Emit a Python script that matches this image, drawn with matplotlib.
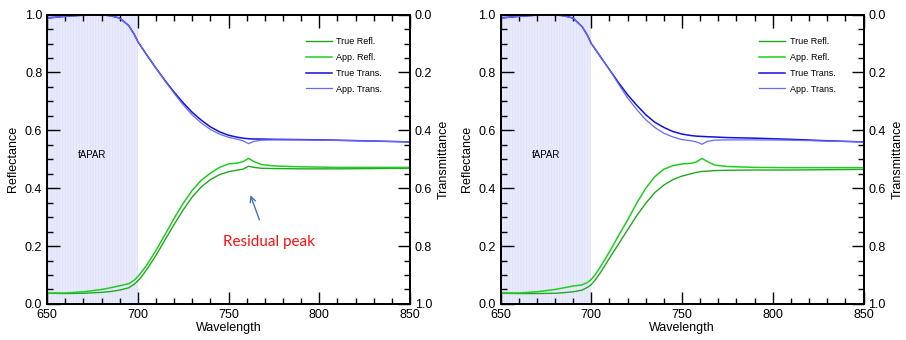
import numpy as np
import matplotlib
matplotlib.use("Agg")
import matplotlib.pyplot as plt
from matplotlib.ticker import MultipleLocator

plt.rcParams['font.family'] = ['Liberation Sans', 'DejaVu Sans']
plt.rcParams['hatch.linewidth'] = 0.5

# Wavelength samples (nm)
wl = [650, 660, 670, 680, 685, 690, 695, 698, 700, 702, 705, 710, 715, 720, 725, 730, 735,
      740, 745, 750, 755, 758, 761, 764, 768, 775, 790, 810, 830, 850]

# Left panel
left_true_refl = [0.037, 0.036, 0.037, 0.040, 0.043, 0.048, 0.056, 0.068, 0.080, 0.094,
                  0.120, 0.168, 0.222, 0.275, 0.325, 0.370, 0.405, 0.430, 0.447, 0.457,
                  0.463, 0.466, 0.476, 0.472, 0.469, 0.468, 0.467, 0.467, 0.468, 0.469]
left_app_refl = [0.038, 0.038, 0.042, 0.050, 0.056, 0.063, 0.070, 0.082, 0.095, 0.110,
                 0.135, 0.185, 0.240, 0.296, 0.348, 0.393, 0.428, 0.452, 0.472, 0.484,
                 0.487, 0.492, 0.503, 0.492, 0.482, 0.477, 0.474, 0.472, 0.472, 0.472]
left_true_trans = [0.012, 0.006, 0.002, 0.001, 0.004, 0.012, 0.038, 0.068, 0.093, 0.112,
                   0.140, 0.185, 0.228, 0.268, 0.305, 0.338, 0.365, 0.388, 0.405, 0.417,
                   0.424, 0.427, 0.429, 0.430, 0.430, 0.431, 0.432, 0.434, 0.437, 0.440]
left_app_trans = [0.012, 0.006, 0.002, 0.001, 0.004, 0.012, 0.038, 0.068, 0.093, 0.112,
                  0.140, 0.186, 0.230, 0.272, 0.312, 0.347, 0.375, 0.397, 0.413, 0.424,
                  0.431, 0.436, 0.446, 0.438, 0.434, 0.433, 0.433, 0.435, 0.437, 0.440]

# Right panel
right_true_refl = [0.037, 0.036, 0.036, 0.037, 0.039, 0.042, 0.048, 0.058, 0.067, 0.082,
                   0.108, 0.158, 0.207, 0.256, 0.305, 0.348, 0.385, 0.411, 0.430, 0.442,
                   0.450, 0.455, 0.458, 0.459, 0.461, 0.462, 0.463, 0.463, 0.464, 0.465]
right_app_refl = [0.038, 0.038, 0.042, 0.050, 0.056, 0.062, 0.066, 0.075, 0.085, 0.100,
                  0.128, 0.180, 0.236, 0.290, 0.348, 0.400, 0.440, 0.466, 0.478, 0.484,
                  0.486, 0.491, 0.503, 0.492, 0.480, 0.475, 0.472, 0.471, 0.471, 0.471]
right_true_trans = [0.012, 0.006, 0.002, 0.001, 0.004, 0.012, 0.042, 0.073, 0.100, 0.118,
                    0.145, 0.190, 0.235, 0.277, 0.313, 0.346, 0.372, 0.390, 0.404, 0.413,
                    0.418, 0.420, 0.421, 0.422, 0.423, 0.425, 0.427, 0.431, 0.436, 0.440]
right_app_trans = [0.012, 0.006, 0.002, 0.001, 0.004, 0.012, 0.042, 0.073, 0.100, 0.118,
                   0.145, 0.190, 0.240, 0.288, 0.328, 0.363, 0.390, 0.410, 0.423, 0.432,
                   0.436, 0.440, 0.448, 0.438, 0.434, 0.433, 0.433, 0.434, 0.437, 0.440]

panels = [
    (left_true_refl, left_app_refl, left_true_trans, left_app_trans, True),
    (right_true_refl, right_app_refl, right_true_trans, right_app_trans, False),
]

fig = plt.figure(figsize=(9.06, 3.4), dpi=100)
lefts = [0.052, 0.5525]

for (trefl, arefl, ttrans, atrans, note), lft in zip(panels, lefts):
    ax = fig.add_axes([lft, 0.106, 0.4006, 0.851])
    ax2 = ax.twinx()

    # fAPAR band
    ax.axvspan(650, 700, facecolor='#e9eafc', edgecolor='#dcdff8', hatch='||||||', lw=0, zorder=0)
    ax.text(675, 0.515, 'fAPAR', fontsize=7, ha='center', va='center')

    l1, = ax.plot(wl, trefl, color='#20a820', lw=1.0, label='True Refl.')
    l2, = ax.plot(wl, arefl, color='#22cc22', lw=1.1, label='App. Refl.')
    l3, = ax2.plot(wl, ttrans, color='#1010e0', lw=1.1, label='True Trans.')
    l4, = ax2.plot(wl, atrans, color='#6a6af5', lw=0.9, label='App. Trans.')

    ax.set_xlim(650, 850)
    ax.set_ylim(0, 1)
    ax2.set_ylim(1, 0)

    ax.xaxis.set_major_locator(MultipleLocator(50))
    ax.xaxis.set_minor_locator(MultipleLocator(10))
    ax.yaxis.set_major_locator(MultipleLocator(0.2))
    ax.yaxis.set_minor_locator(MultipleLocator(0.05))
    ax2.yaxis.set_major_locator(MultipleLocator(0.2))
    ax2.yaxis.set_minor_locator(MultipleLocator(0.05))

    ax.tick_params(which='both', direction='in', top=True, labelsize=9, width=1)
    ax.tick_params(which='major', length=9)
    ax.tick_params(which='minor', length=4.5)
    ax2.tick_params(which='both', direction='in', labelsize=9, width=1)
    ax2.tick_params(which='major', length=9)
    ax2.tick_params(which='minor', length=4.5)
    ax.yaxis.set_major_formatter(plt.FormatStrFormatter('%.1f'))
    ax2.yaxis.set_major_formatter(plt.FormatStrFormatter('%.1f'))
    for s in ax.spines.values():
        s.set_linewidth(1.3)
    for s in ax2.spines.values():
        s.set_linewidth(1.3)

    ax.set_xlabel('Wavelength', fontsize=9, labelpad=1)
    ax.set_ylabel('Reflectance', fontsize=9, labelpad=4)
    ax2.set_ylabel('Transmittance', fontsize=9, labelpad=4)

    ax2.legend(handles=[l1, l2, l3, l4], loc='upper left', bbox_to_anchor=(0.69, 0.95),
               frameon=False, fontsize=6.5, handlelength=2.9, labelspacing=0.75,
               handletextpad=0.5)

    if note:
        ax.annotate('', xy=(761.5, 0.385), xytext=(767.5, 0.282),
                    arrowprops=dict(arrowstyle='->', color='#4472c4', lw=1))
        ax.text(772, 0.215, 'Residual peak', color='#ff1010', fontsize=11,
                family=['Lato', 'DejaVu Sans'], ha='center', va='center')

fig.savefig('out.png', dpi=100)
